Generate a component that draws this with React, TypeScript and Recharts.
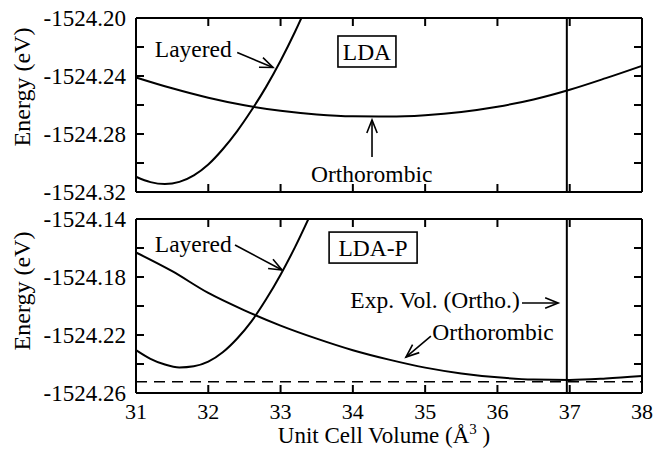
import React from "react";
import { LineChart, Line, XAxis, YAxis, ReferenceLine, ReferenceDot } from "recharts";

// axis ticks
const volumeTicks = [31, 32, 33, 34, 35, 36, 37, 38];
const ldaTicks = [-1524.32, -1524.3, -1524.28, -1524.26, -1524.24, -1524.22, -1524.2];
const ldapTicks = [-1524.26, -1524.24, -1524.22, -1524.2, -1524.18, -1524.16, -1524.14];

// orthorombic curves (volume in A^3, energy in eV)
const orthoVolumes = [31, 31.5, 32, 32.5, 33, 33.5, 34, 34.5, 35, 35.5, 36, 36.5, 37, 37.5, 38];
const ldaOrtho = [
  -1524.241, -1524.2485, -1524.255, -1524.2602, -1524.264, -1524.2665, -1524.2678, -1524.268,
  -1524.267, -1524.2648, -1524.2612, -1524.2562, -1524.2495, -1524.2415, -1524.233,
];
const ldapOrtho = [
  -1524.1631, -1524.176, -1524.191, -1524.203, -1524.2135, -1524.2225, -1524.2305, -1524.237,
  -1524.2425, -1524.2465, -1524.2492, -1524.2507, -1524.251, -1524.25, -1524.2483,
];

// layered curves
const layeredVolumes = [31, 31.2, 31.4, 31.6, 31.8, 32, 32.2, 32.4, 32.6, 32.8, 33, 33.2, 33.4];
const ldaLayered = [
  -1524.3095, -1524.3132, -1524.3145, -1524.313, -1524.3085, -1524.301, -1524.2905, -1524.278,
  -1524.2635, -1524.2475, -1524.2295, -1524.2095, -1524.1875,
];
const ldapLayered = [
  -1524.2304, -1524.2364, -1524.2404, -1524.2424, -1524.2416, -1524.2384, -1524.2319, -1524.2224,
  -1524.2104, -1524.1954, -1524.1784, -1524.1594, -1524.1384,
];

const expVolume = 36.96;
const ldapMinEnergy = -1524.2522;

const rows = (xs: number[], es: number[]) => xs.map((v, i) => ({ v, e: es[i] }));

const serif = { fontFamily: "Liberation Serif, DejaVu Serif, serif" };
const TICK_LEN = 8;
const AX = 10; // axis band size (must be > 0 or recharts skips the axis)
const frame = { stroke: "#000", strokeWidth: 2 };
const X_MIN = 31;
const X_MAX = 38;
const PLOT_W = 506;
const PLOT_H = 174;

function LeftLabel(props: any) {
  const { x, y, index, payload } = props;
  if (index % 2 !== 0) return <g />;
  return (
    <text x={x - 10} y={y} dy="0.35em" textAnchor="end" style={serif} fontSize={23} fill="#000">
      {Number(payload.value).toFixed(2)}
    </text>
  );
}

function BottomLabel(props: any) {
  const { x, y, payload, showLabel } = props;
  if (!showLabel) return <g />;
  return (
    <text x={x} y={y + 26} textAnchor="middle" style={serif} fontSize={22} fill="#000">
      {payload.value}
    </text>
  );
}

function Arrow(props: any) {
  const { x1, y1, x2, y2 } = props;
  const a = Math.atan2(y2 - y1, x2 - x1);
  const len = 14;
  const spread = 0.38;
  const p1 = [x2 - len * Math.cos(a - spread), y2 - len * Math.sin(a - spread)];
  const p2 = [x2 - len * Math.cos(a + spread), y2 - len * Math.sin(a + spread)];
  return (
    <g>
      <line x1={x1} y1={y1} x2={x2} y2={y2} stroke="#000" strokeWidth={1.6} />
      <polyline points={`${p1[0]},${p1[1]} ${x2},${y2} ${p2[0]},${p2[1]}`} fill="none" stroke="#000" strokeWidth={1.6} />
    </g>
  );
}

function note(text: string, anchor: "start" | "middle" | "end") {
  return (p: any) => (
    <text x={p.cx} y={p.cy} textAnchor={anchor} style={serif} fontSize={23.5} fill="#000">
      {text}
    </text>
  );
}

function boxed(text: string, w: number, h: number) {
  return (p: any) => (
    <g>
      <rect x={p.cx - w / 2} y={p.cy - h / 2} width={w} height={h} fill="#fff" stroke="#000" strokeWidth={1.6} />
      <text x={p.cx} y={p.cy} dy="0.35em" textAnchor="middle" style={serif} fontSize={23.5} fill="#000">
        {text}
      </text>
    </g>
  );
}

function EnergyTitle(props: any) {
  const { cy } = props;
  return (
    <text transform={`translate(30,${cy}) rotate(-90)`} textAnchor="middle" style={serif} fontSize={24} fill="#000">
      Energy (eV)
    </text>
  );
}

function VolumeTitle() {
  return (
    <text x={384} y={443} textAnchor="middle" style={serif} fontSize={23} fill="#000">
      Unit Cell Volume (Å
      <tspan dy={-9} fontSize={15}>3</tspan>
      <tspan dy={9}> )</tspan>
    </text>
  );
}

// inward tick marks on all four sides of the frame, placed through the chart scales
function frameTicks(domain: [number, number], ticks: number[]) {
  const dx = (TICK_LEN * (X_MAX - X_MIN)) / PLOT_W;
  const dy = (TICK_LEN * (domain[1] - domain[0])) / PLOT_H;
  const tk = { stroke: "#000", strokeWidth: 2, ifOverflow: "visible" as const };
  return [
    ...ticks.map((t) => (
      <ReferenceLine key={`l${t}`} {...tk} segment={[{ x: X_MIN, y: t }, { x: X_MIN + dx, y: t }]} />
    )),
    ...ticks.map((t) => (
      <ReferenceLine key={`r${t}`} {...tk} segment={[{ x: X_MAX, y: t }, { x: X_MAX - dx, y: t }]} />
    )),
    ...volumeTicks.map((v) => (
      <ReferenceLine key={`b${v}`} {...tk} segment={[{ x: v, y: domain[0] }, { x: v, y: domain[0] + dy }]} />
    )),
    ...volumeTicks.map((v) => (
      <ReferenceLine key={`t${v}`} {...tk} segment={[{ x: v, y: domain[1] }, { x: v, y: domain[1] - dy }]} />
    )),
  ];
}

interface PanelProps {
  top: number;
  bottom: number;
  domain: [number, number];
  ticks: number[];
  ortho: { v: number; e: number }[];
  layered: { v: number; e: number }[];
  titleY: number;
  showXLabels: boolean;
  children?: React.ReactNode;
}

// top/bottom are the pixel edges of the plot frame inside the 657x454 page
function Panel({ top, bottom, domain, ticks, ortho, layered, titleY, showXLabels, children }: PanelProps) {
  return (
    <div style={{ position: "absolute", left: 0, top: 0 }}>
      <LineChart width={657} height={454} margin={{ top: top - AX, right: 15 - AX, bottom: 454 - bottom - AX, left: 136 - AX }}>
        <XAxis
          type="number"
          dataKey="v"
          domain={[X_MIN, X_MAX]}
          ticks={volumeTicks}
          interval={0}
          height={AX}
          tickSize={0}
          tickMargin={0}
          tickLine={false}
          axisLine={frame}
          tick={(p: any) => <BottomLabel {...p} showLabel={showXLabels} />}
          label={showXLabels ? <VolumeTitle /> : undefined}
        />
        <XAxis
          xAxisId="top"
          orientation="top"
          type="number"
          dataKey="v"
          domain={[X_MIN, X_MAX]}
          ticks={volumeTicks}
          height={AX}
          tickLine={false}
          axisLine={frame}
          tick={false}
        />
        <YAxis
          type="number"
          domain={domain}
          ticks={ticks}
          interval={0}
          allowDataOverflow
          width={AX}
          tickSize={0}
          tickMargin={0}
          tickLine={false}
          axisLine={frame}
          tick={(p: any) => <LeftLabel {...p} />}
          label={<EnergyTitle cy={titleY} />}
        />
        <YAxis
          yAxisId="right"
          orientation="right"
          type="number"
          domain={domain}
          ticks={ticks}
          width={AX}
          tickLine={false}
          axisLine={frame}
          tick={false}
        />
        {frameTicks(domain, ticks)}
        <ReferenceLine x={expVolume} stroke="#000" strokeWidth={2} />
        <Line data={ortho} dataKey="e" type="monotone" stroke="#000" strokeWidth={2} dot={false} isAnimationActive={false} />
        <Line data={layered} dataKey="e" type="monotone" stroke="#000" strokeWidth={2} dot={false} isAnimationActive={false} />
        {children}
      </LineChart>
    </div>
  );
}

export default function App() {
  return (
    <div style={{ position: "absolute", left: 0, top: 0, width: 657, height: 454, background: "#fff" }}>
      <Panel
        top={18}
        bottom={192}
        domain={[-1524.32, -1524.2]}
        ticks={ldaTicks}
        ortho={rows(orthoVolumes, ldaOrtho)}
        layered={rows(layeredVolumes, ldaLayered)}
        titleY={87}
        showXLabels={false}
      >
        <ReferenceDot x={31.26} y={-1524.2267} r={0} shape={note("Layered", "start")} />
        <ReferenceLine segment={[{ x: 32.4, y: -1524.2238 }, { x: 32.895, y: -1524.2341 }]} shape={Arrow} />
        <ReferenceDot x={34.26} y={-1524.3129} r={0} shape={note("Orthorombic", "middle")} />
        <ReferenceLine segment={[{ x: 34.265, y: -1524.2959 }, { x: 34.265, y: -1524.2703 }]} shape={Arrow} />
        <ReferenceDot x={34.195} y={-1524.2231} r={0} shape={boxed("LDA", 58, 31)} />
      </Panel>
      <Panel
        top={219}
        bottom={393}
        domain={[-1524.26, -1524.14]}
        ticks={ldapTicks}
        ortho={rows(orthoVolumes, ldapOrtho)}
        layered={rows(layeredVolumes, ldapLayered)}
        titleY={291}
        showXLabels
      >
        <ReferenceLine y={ldapMinEnergy} stroke="#000" strokeWidth={1.6} strokeDasharray="11 7" />
        <ReferenceDot x={31.26} y={-1524.1626} r={0} shape={note("Layered", "start")} />
        <ReferenceLine segment={[{ x: 32.37, y: -1524.1579 }, { x: 33.02, y: -1524.1752 }]} shape={Arrow} />
        <ReferenceDot x={34.28} y={-1524.1597} r={0} shape={boxed("LDA-P", 88, 31)} />
        <ReferenceDot x={36.31} y={-1524.2016} r={0} shape={note("Exp. Vol. (Ortho.)", "end")} />
        <ReferenceLine segment={[{ x: 36.34, y: -1524.1979 }, { x: 36.84, y: -1524.1979 }]} shape={Arrow} />
        <ReferenceDot x={35.1} y={-1524.2234} r={0} shape={note("Orthorombic", "start")} />
        <ReferenceLine segment={[{ x: 35.08, y: -1524.2207 }, { x: 34.735, y: -1524.2352 }]} shape={Arrow} />
      </Panel>
    </div>
  );
}
